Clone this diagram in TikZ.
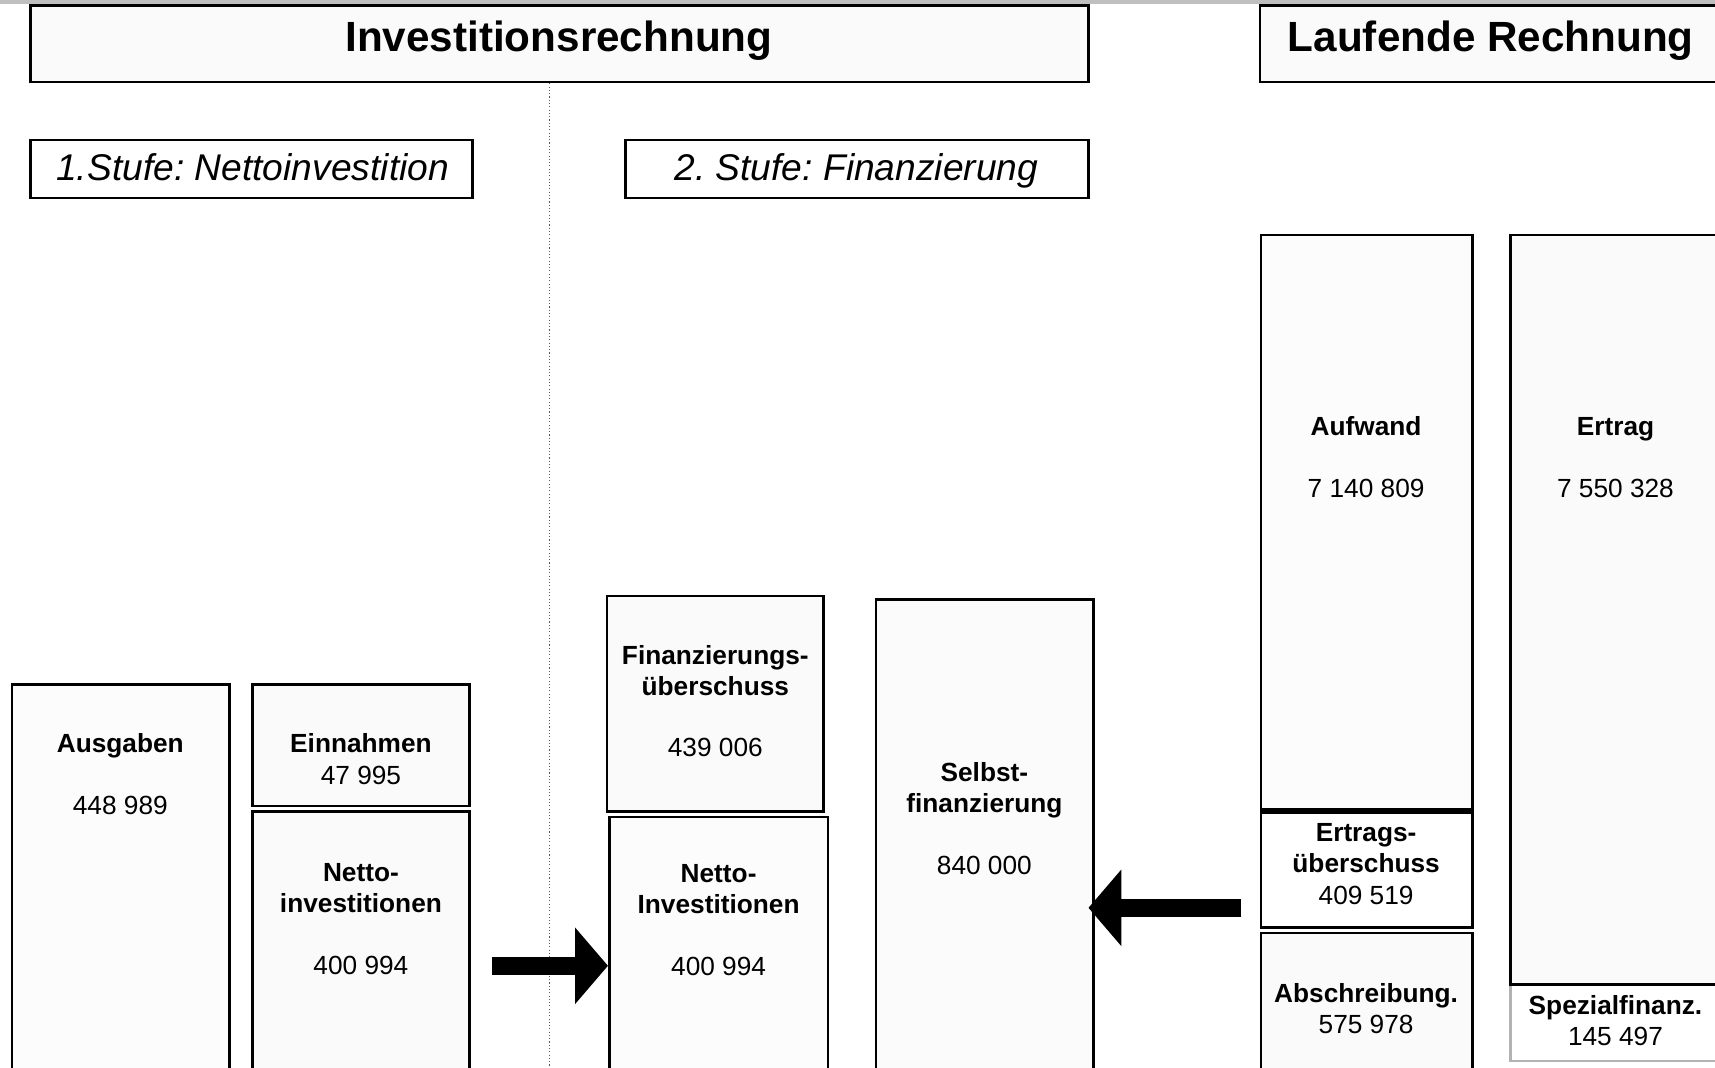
\documentclass[tikz,border=0pt]{standalone}
\usepackage{fontspec}
\setmainfont{Liberation Sans}
\usepackage{tikz}
\usetikzlibrary{arrows.meta,fit}
\frenchspacing

\tikzset{
  kasten/.style={draw=black, line width=1.2pt, fill=gray!4, inner sep=0pt},
  titel/.style={anchor=base, font=\fontsize{19.3}{23}\selectfont\bfseries},
  stufe/.style={anchor=base, font=\fontsize{17}{20}\selectfont\itshape},
  wert/.style={align=center, inner sep=0pt, font=\fontsize{12}{14.25}\selectfont},
  pfeil/.style={line width=8.5pt, -{Triangle[length=15pt, width=35pt, line width=0pt]}},
  trennlinie/.style={densely dotted, line width=0.5pt, gray!70!black}
}

\begin{document}
\begin{tikzpicture}[x=0.5pt, y=-0.5pt]
\useasboundingbox (0,0) rectangle (1568,976);
\clip (0,0) rectangle (1568,976);

\fill[gray!50] (0,0) rectangle (1568,4);

\node[kasten, fit={(28,5) (995,75)}] (investbox) {};
\node[titel] (investtitel) at (511,47) {Investitionsrechnung};
\node[kasten, fit={(1152,5) (1600,75)}] (laufendbox) {};
\node[titel] (laufendtitel) at (1363,47) {Laufende Rechnung};

\node[kasten, fill=white, fit={(28,128) (432,181)}] (stufe1box) {};
\node[stufe] (stufe1) at (231,165) {1.Stufe: Nettoinvestition};
\node[kasten, fill=white, fit={(572,128) (995,181)}] (stufe2box) {};
\node[stufe] (stufe2) at (783,165) {2. Stufe: Finanzierung};

\coordinate (trenn) at (502,976);
\draw[trennlinie] (trenn |- investbox.south) -- (trenn);

\node[kasten, fill=gray!2, fit={(11,626) (210,1000)}] (ausgaben) {};
\node[wert] (ausgabent) at (110,708) {\textbf{Ausgaben}\\[14pt]448 989};
\node[kasten, fit={(231,626) (429,737)}] (einnahmen) {};
\node[wert] (einnahment) at (330,694) {\textbf{Einnahmen}\\47 995};
\node[kasten, fit={(231,742) (429,1000)}] (nettoA) {};
\node[wert] (nettoAt) at (330,840) {\textbf{Netto-}\\\textbf{investitionen}\\[14pt]400 994};

\node[kasten, fit={(555,545) (753,742)}] (finueber) {};
\node[wert] (finuebert) at (654,641) {\textbf{Finanzierungs-}\\\textbf{überschuss}\\[14pt]439 006};
\node[kasten, fill=gray!2, fit={(557,747) (757,1000)}] (nettoB) {};
\node[wert] (nettoBt) at (657,841) {\textbf{Netto-}\\\textbf{Investitionen}\\[14pt]400 994};
\node[kasten, fill=gray!3, fit={(801,548) (1000,1000)}] (selbst) {};
\node[wert] (selbstt) at (900,748) {\textbf{Selbst-}\\\textbf{finanzierung}\\[14pt]840 000};

\node[kasten, fill=gray!2, fit={(1153,215) (1346,740)}] (aufwand) {};
\node[wert] (aufwandt) at (1249,418) {\textbf{Aufwand}\\[14pt]7 140 809};
\node[kasten, fill=white, fit={(1153,743) (1346,848)}] (ertragsueber) {};
\node[wert] (ertragsuebert) at (1249,790) {\textbf{Ertrags-}\\\textbf{überschuss}\\409 519};
\node[kasten, fit={(1153,853) (1346,1000)}] (abschreib) {};
\node[wert] (abschreibt) at (1249,922) {\textbf{Abschreibung.}\\575 978};

\node[kasten, draw=gray!60, fill=white, fit={(1381,900) (1573,970)}] (spezial) {};
\node[wert] (spezialt) at (1477,933) {\textbf{Spezialfinanz.}\\145 497};
\node[kasten, fit={(1381,215) (1573,900)}] (ertrag) {};
\node[wert] (ertragt) at (1477,418) {\textbf{Ertrag}\\[14pt]7 550 328};

\coordinate (rechtsstart) at (450,883);
\coordinate (linksstart) at (1135,830);
\draw[pfeil] (rechtsstart) -- (nettoB.west |- rechtsstart);
\draw[pfeil, shorten >=-3pt] (linksstart) -- (selbst.east |- linksstart);

\end{tikzpicture}
\end{document}
